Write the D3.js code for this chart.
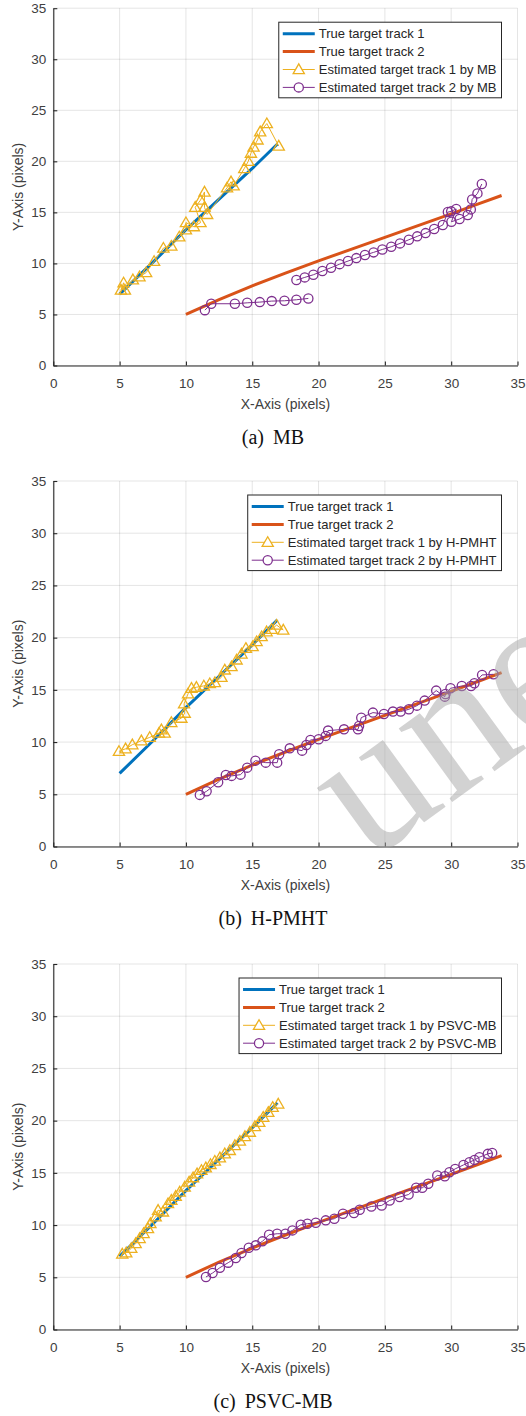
<!DOCTYPE html>
<html>
<head>
<meta charset="utf-8">
<script src="https://cdn.jsdelivr.net/npm/d3@7"></script>
<style>
  html, body { margin: 0; padding: 0; background: #fff; }
  svg { display: block; font-family: "Liberation Sans", Arial, sans-serif; }
</style>
</head>
<body>
<svg id="fig" width="526" height="1416"></svg>
<script>
// ---- data -------------------------------------------------------------
const axisTicks = [0, 5, 10, 15, 20, 25, 30, 35];

// ground-truth trajectories (x, y in pixels)
const trueTrack1 = [[5, 7], [7.5, 10.1], [10, 13.3], [12.5, 16.3], [15, 19.3], [16.9, 21.7]];
const trueTrack2 = [[10, 5], [12.5, 6.45], [15, 7.8], [17.5, 9.05], [20, 10.25], [22.5, 11.4],
                    [25, 12.55], [27.5, 13.7], [30, 14.85], [32, 15.8], [33.8, 16.65]];

// MB estimates
const mbTrack1 = [[5.1, 7.4], [5.3, 8.1], [5.4, 7.4], [6.0, 8.4], [6.5, 8.7], [7.0, 9.1], [7.6, 10.2],
  [8.3, 11.5], [8.9, 11.7], [9.5, 12.6], [10.0, 13.3], [10.0, 14.0], [10.6, 13.6], [11.1, 14.0],
  [10.7, 15.5], [11.1, 16.2], [11.4, 17.0], [11.4, 15.5], [11.6, 14.8], [13.1, 17.4], [13.4, 18.0],
  [13.6, 17.6], [14.4, 19.3], [14.7, 20.0], [14.9, 20.8], [15.1, 21.4], [15.4, 22.1], [15.6, 22.9],
  [16.1, 23.7], [17.0, 21.5]];
const mbTrack2 = [[11.43, 5.42], [11.91, 6.05], [13.69, 6.05], [14.62, 6.14], [15.57, 6.21],
  [16.47, 6.31], [17.43, 6.34], [18.33, 6.44], [19.23, 6.57], null,
  [18.33, 8.37], [18.96, 8.63], [19.61, 8.89], [20.29, 9.25], [20.94, 9.58], [21.59, 9.93],
  [22.22, 10.23], [22.85, 10.52], [23.5, 10.82], [24.15, 11.08], [24.81, 11.37], [25.48, 11.63],
  [26.14, 11.96], [26.81, 12.32], [27.44, 12.65], [28.07, 12.97], [28.72, 13.37], [29.37, 13.76],
  [29.75, 15.03], [30.0, 15.1], [30.38, 15.33], [30.02, 14.08], [30.63, 14.35], [31.25, 14.74],
  [31.48, 15.29], [31.58, 16.27], [31.98, 16.86], [32.31, 17.78]];

// H-PMHT estimates
const hpmhtTrack1 = [[4.95, 9.11], [5.45, 9.36], [5.96, 9.75], [6.64, 10.13], [7.27, 10.45],
  [7.97, 10.86], [8.15, 11.18], [8.4, 10.86], [8.9, 11.88], [9.66, 12.29], [9.91, 12.77],
  [9.86, 13.66], [10.16, 14.62], [10.42, 15.16], [10.79, 15.25], [11.35, 15.38], [11.8, 15.6],
  [12.18, 15.7], [12.68, 16.21], [12.93, 16.91], [13.44, 17.23], [13.82, 17.87], [14.19, 18.44],
  [14.52, 18.98], [15.03, 19.14], [15.33, 19.62], [15.71, 20.1], [16.08, 20.57], [16.46, 20.8],
  [16.84, 21.2], [17.34, 20.73]];
const hpmhtTrack2 = [[11.05, 4.94], [11.56, 5.29], [12.43, 6.15], [13.01, 6.85], [13.44, 6.76],
  [14.12, 6.88], [14.62, 7.55], [15.24, 8.22], [16.02, 8.03], [16.88, 8.03], [17.03, 8.83],
  [17.83, 9.4], [18.76, 9.18], [19.08, 9.72], [19.39, 10.2], [20.01, 10.27], [20.54, 10.59],
  [20.72, 11.1], [21.92, 11.22], [22.97, 11.22], [23.05, 11.54], [23.22, 12.34], [24.1, 12.82],
  [24.93, 12.69], [25.61, 12.92], [26.19, 12.92], [26.81, 13.14], [27.42, 13.49], [28.0, 13.97],
  [28.87, 14.93], [29.52, 14.35], [29.57, 14.6], [29.95, 15.15], [30.8, 15.37], [31.5, 15.37],
  [31.75, 15.63], [32.33, 16.43], [33.19, 16.49]];

// PSVC-MB estimates
const psvcTrack1 = [[5.2, 7.23], [5.5, 7.35], [5.88, 7.77], [6.21, 8.24], [6.51, 8.72], [6.81, 9.2],
  [7.14, 9.67], [7.32, 10.15], [7.72, 10.79], [7.9, 11.42], [8.27, 11.26], [8.65, 12.06],
  [8.9, 12.38], [9.23, 12.76], [9.53, 13.17], [9.91, 13.65], [10.24, 14.13], [10.54, 14.54],
  [10.84, 14.92], [11.17, 15.24], [11.5, 15.49], [11.85, 15.81], [12.18, 16.13], [12.56, 16.45],
  [12.93, 16.83], [13.31, 17.15], [13.69, 17.62], [14.07, 18.04], [14.45, 18.48], [14.82, 18.9],
  [15.2, 19.44], [15.53, 19.85], [15.83, 20.33], [16.21, 20.8], [16.54, 21.28], [16.96, 21.6]];
const psvcTrack2 = [[11.51, 5.03], [12.01, 5.41], [12.56, 5.92], [13.19, 6.4], [13.76, 6.85],
  [14.19, 7.32], [14.74, 7.83], [15.27, 8.06], [15.77, 8.44], [16.27, 9.08], [16.88, 9.17],
  [17.5, 9.17], [18.03, 9.49], [18.66, 10.03], [19.16, 10.13], [19.79, 10.22], [20.54, 10.45],
  [21.19, 10.61], [21.84, 11.08], [22.67, 11.15], [23.1, 11.46], [23.98, 11.78], [24.76, 11.88],
  [25.36, 12.36], [26.11, 12.68], [26.79, 12.93], [27.36, 13.57], [27.82, 13.57], [28.27, 13.95],
  [28.95, 14.75], [29.52, 14.68], [29.87, 15.06], [30.3, 15.38], [30.93, 15.76], [31.38, 16.02],
  [31.76, 16.24], [32.13, 16.5], [32.76, 16.82], [33.09, 16.91]];

const methods = ["MB", "H-PMHT", "PSVC-MB"];
const captionTags = ["(a)", "(b)", "(c)"];
const legendNames = ["True target track 1", "True target track 2",
                     "Estimated target track 1 by ", "Estimated target track 2 by "];
const estimates = [[mbTrack1, mbTrack2], [hpmhtTrack1, hpmhtTrack2], [psvcTrack1, psvcTrack2]];

// ---- layout & style ---------------------------------------------------
const COLORS = { t1: "#0072BD", t2: "#D95319", e1: "#EDB120", e2: "#7E2F8E" };
const INK = "#262626";
const X0 = 53.3, X1 = 517.5;
const panelRows = [ { top: 8.2, bottom: 365.5 }, { top: 481, bottom: 846.5 }, { top: 964, bottom: 1329.5 } ];

const svg = d3.select("#fig");
const x = d3.scaleLinear().domain([0, 35]).range([X0, X1]);

const trianglePath = "M0,-5.6L5.6,4.1L-5.6,4.1Z";

function drawMarkers(g, pts, kind, xs, ys) {
  const data = pts.filter(d => d);
  if (kind === "tri") {
    g.selectAll(null).data(data).join("path")
      .attr("d", trianglePath)
      .attr("transform", d => `translate(${xs(d[0])},${ys(d[1])})`)
      .attr("fill", "none").attr("stroke", COLORS.e1).attr("stroke-width", 1.3);
  } else {
    g.selectAll(null).data(data).join("circle")
      .attr("cx", d => xs(d[0])).attr("cy", d => ys(d[1])).attr("r", 4.6)
      .attr("fill", "none").attr("stroke", COLORS.e2).attr("stroke-width", 1.3);
  }
}

panelRows.forEach((row, i) => {
  const y = d3.scaleLinear().domain([0, 35]).range([row.bottom, row.top]);
  const g = svg.append("g");

  // grid
  g.append("g").selectAll("line").data(axisTicks).join("line")
    .attr("x1", d => x(d)).attr("x2", d => x(d)).attr("y1", row.top).attr("y2", row.bottom)
    .attr("stroke", INK).attr("stroke-opacity", 0.12).attr("stroke-width", 1);
  g.append("g").selectAll("line").data(axisTicks).join("line")
    .attr("y1", d => y(d)).attr("y2", d => y(d)).attr("x1", X0).attr("x2", X1)
    .attr("stroke", INK).attr("stroke-opacity", 0.12).attr("stroke-width", 1);

  // axes (ticks point inward)
  const xAxis = d3.axisBottom(x).tickValues(axisTicks).tickSizeInner(-4).tickSizeOuter(0).tickPadding(10);
  const yAxis = d3.axisLeft(y).tickValues(axisTicks).tickSizeInner(-4).tickSizeOuter(0).tickPadding(10);
  const ax = g.append("g").attr("transform", `translate(0,${row.bottom})`).call(xAxis);
  const ay = g.append("g").attr("transform", `translate(${X0},0)`).call(yAxis);
  [ax, ay].forEach(a => {
    a.select(".domain").attr("stroke", INK).attr("stroke-width", 1.1);
    a.selectAll(".tick line").attr("stroke", INK).attr("stroke-width", 1.1);
    a.selectAll(".tick text").attr("fill", "#404040").attr("font-size", 13.5)
      .attr("font-family", "Liberation Sans, Arial, sans-serif");
  });
  ax.selectAll(".tick text").attr("dy", "0.95em");
  ay.selectAll(".tick text").attr("x", -7);

  g.append("text").attr("x", (X0 + X1) / 2).attr("y", row.bottom + 43)
    .attr("text-anchor", "middle").attr("font-size", 14).attr("fill", "#404040")
    .text("X-Axis (pixels)");
  g.append("text")
    .attr("transform", `translate(23,${(row.top + row.bottom) / 2}) rotate(-90)`)
    .attr("text-anchor", "middle").attr("font-size", 14).attr("fill", "#404040")
    .text("Y-Axis (pixels)");

  // tracks
  const line = d3.line().defined(d => d).x(d => x(d[0])).y(d => y(d[1]));
  const [est1, est2] = estimates[i];
  g.append("path").datum(trueTrack1).attr("d", line).attr("fill", "none")
    .attr("stroke", COLORS.t1).attr("stroke-width", 3);
  g.append("path").datum(trueTrack2).attr("d", line).attr("fill", "none")
    .attr("stroke", COLORS.t2).attr("stroke-width", 3);
  g.append("path").datum(est1).attr("d", line).attr("fill", "none")
    .attr("stroke", COLORS.e1).attr("stroke-width", 1);
  drawMarkers(g.append("g"), est1, "tri", x, y);
  g.append("path").datum(est2).attr("d", line).attr("fill", "none")
    .attr("stroke", COLORS.e2).attr("stroke-width", 1);
  drawMarkers(g.append("g"), est2, "circ", x, y);

  // legend
  const lg = g.append("g");
  const box = lg.append("rect").attr("fill", "#fff").attr("stroke", INK).attr("stroke-width", 1);
  const labels = legendNames.map((s, k) => k < 2 ? s : s + methods[i]);
  const rowGap = 17.9, sampleW = 32, padL = 4, gapTxt = 4, padR = 5;
  const texts = labels.map((s, k) => lg.append("text").attr("font-size", 13).attr("fill", INK)
    .attr("y", k * rowGap + 4.6).text(s));
  const maxW = d3.max(texts, t => t.node().getComputedTextLength());
  const boxW = padL + sampleW + gapTxt + maxW + padR;
  const boxH = 4 * rowGap + 4;
  const right = 501.5, top = row.top + 14;
  lg.attr("transform", `translate(${right - boxW},${top + 11.5})`);
  box.attr("x", 0).attr("y", -11.5).attr("width", boxW).attr("height", boxH);
  texts.forEach(t => t.attr("x", padL + sampleW + gapTxt));
  const sampleColors = [COLORS.t1, COLORS.t2, COLORS.e1, COLORS.e2];
  sampleColors.forEach((c, k) => {
    lg.append("line").attr("x1", padL).attr("x2", padL + sampleW).attr("y1", k * rowGap).attr("y2", k * rowGap)
      .attr("stroke", c).attr("stroke-width", k < 2 ? 3 : 1);
  });
  lg.append("path").attr("d", trianglePath)
    .attr("transform", `translate(${padL + sampleW / 2},${2 * rowGap})`)
    .attr("fill", "#fff").attr("stroke", COLORS.e1).attr("stroke-width", 1.3);
  lg.append("circle").attr("cx", padL + sampleW / 2).attr("cy", 3 * rowGap).attr("r", 4.6)
    .attr("fill", "#fff").attr("stroke", COLORS.e2).attr("stroke-width", 1.3);

  // sub-figure caption
  const cap = svg.append("text").attr("x", 273).attr("y", row.bottom + 78.5)
    .attr("text-anchor", "middle").attr("font-family", "Liberation Serif, serif")
    .attr("font-size", 20).attr("fill", "#111");
  cap.append("tspan").text(captionTags[i]);
  cap.append("tspan").attr("dx", 9).text(methods[i]);

  // watermark over the H-PMHT panel (runs off the right edge)
  if (i === 1) {
    svg.append("text")
      .attr("transform", "translate(484,779) rotate(-36)")
      .attr("text-anchor", "middle").attr("font-family", "Liberation Serif, serif")
      .attr("font-size", 198).attr("fill", "#a6a6a6").attr("fill-opacity", 0.5)
      .text("une");
  }
});
</script>
</body>
</html>
